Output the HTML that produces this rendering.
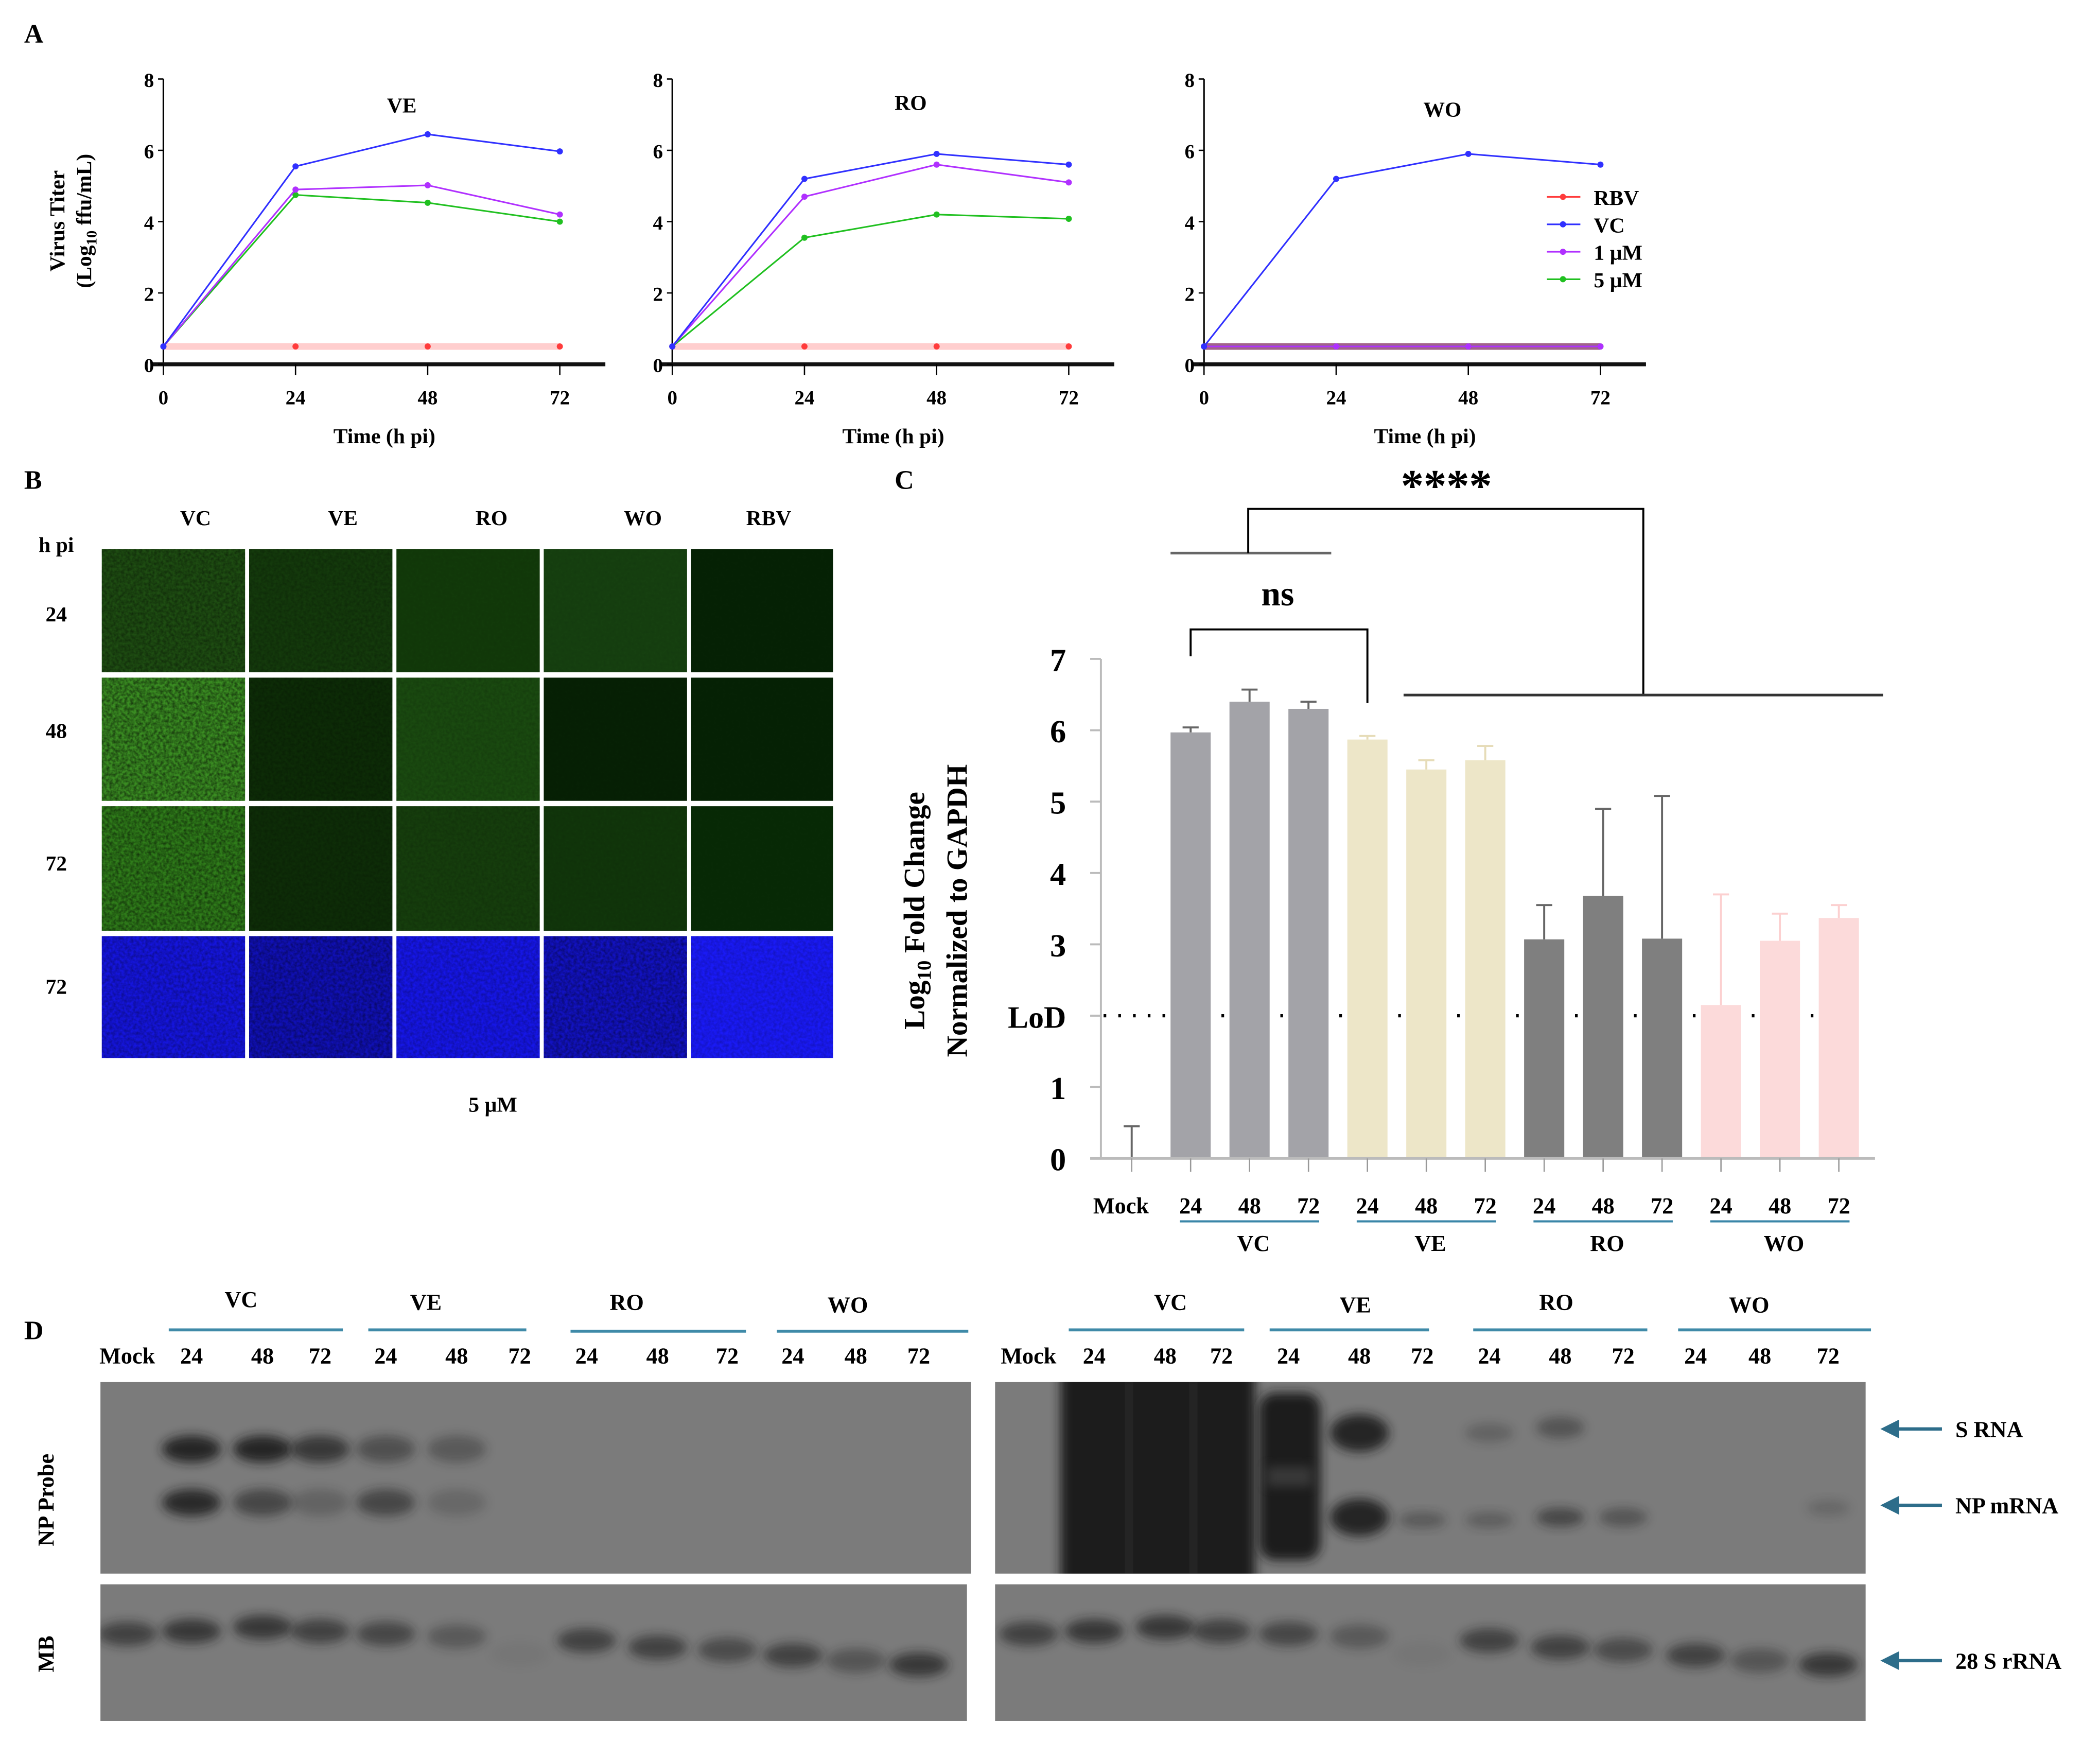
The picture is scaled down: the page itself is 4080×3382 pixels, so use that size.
<!DOCTYPE html>
<html><head><meta charset="utf-8"><style>
html,body{margin:0;padding:0;background:#fff;}
svg{display:block;}
text{font-family:"Liberation Serif",serif;font-weight:bold;fill:#000;}
</style></head>
<body>
<svg id="fig" xmlns="http://www.w3.org/2000/svg" width="4080" height="3382" viewBox="0 0 1568 1300" preserveAspectRatio="none">
<defs>
<filter id="blur3" x="-50%" y="-50%" width="200%" height="200%"><feGaussianBlur stdDeviation="4"/></filter>
<filter id="blur6" x="-50%" y="-50%" width="200%" height="200%"><feGaussianBlur stdDeviation="7"/></filter>
<filter id="noise" x="0" y="0" width="100%" height="100%"><feTurbulence type="fractalNoise" baseFrequency="0.45" numOctaves="2" seed="3"/><feColorMatrix type="matrix" values="0 0 0 0 0  0 0 0 0 0  0 0 0 0 0  0 0 0 -1.4 1.0"/><feComposite in2="SourceGraphic" operator="in"/></filter>
</defs>
<g id="panelA"></g>
<g id="panelB"></g>
<g id="panelC"></g>
<g id="panelD"></g>
</svg>
<script>
// ---------- Panel A data ----------
const timePoints = [0, 24, 48, 72];
const yTicksA = [0, 2, 4, 6, 8];
const aTitles = ["VE", "RO", "WO"];
const aVC  = [[0.5,5.55,6.45,5.97],[0.5,5.2,5.9,5.6],[0.5,5.2,5.9,5.6]];
const a1uM = [[0.5,4.9,5.02,4.2],[0.5,4.7,5.6,5.1],[0.5,0.5,0.5,0.5]];
const a5uM = [[0.5,4.75,4.53,4.0],[0.5,3.55,4.2,4.08],[0.5,0.5,0.5,0.5]];
const aRBV = [[0.5,0.5,0.5,0.5],[0.5,0.5,0.5,0.5],[0.5,0.5,0.5,0.5]];
const legendLabels = ["RBV","VC","1 µM","5 µM"];
// ---------- Panel C data ----------
const cCategories = ["Mock","VC 24","VC 48","VC 72","VE 24","VE 48","VE 72","RO 24","RO 48","RO 72","WO 24","WO 48","WO 72"];
const cTickLabels = ["Mock","24","48","72","24","48","72","24","48","72","24","48","72"];
const cValues = [0,5.97,6.4,6.3,5.87,5.45,5.58,3.07,3.68,3.08,2.15,3.05,3.37];
const cErrors = [0.45,0.07,0.17,0.1,0.05,0.13,0.2,0.48,1.22,2.0,1.55,0.38,0.18];
const cYTicks = ["0","1","LoD","3","4","5","6","7"];
const cLoD = 2;

const NS="http://www.w3.org/2000/svg";
function mk(parent, tag, attrs, txt){const e=document.createElementNS(NS,tag);for(const k in attrs)e.setAttribute(k,attrs[k]);if(txt!==undefined)e.textContent=txt;parent.appendChild(e);return e;}

// ---------- Panel A ----------
const A=document.getElementById('panelA');
let t=mk(A,'text',{x:18,y:32,'font-size':20},'A');


t=mk(A,'text',{transform:'translate(48,165) rotate(-90)','text-anchor':'middle','font-size':16},'Virus Titer');


t=mk(A,'text',{transform:'translate(68,165) rotate(-90)','text-anchor':'middle','font-size':16});
t.innerHTML='(Log<tspan font-size="11" dy="4">10</tspan><tspan dy="-4"> ffu/mL)</tspan>';


const aX0=[122,502,899], aW=296, aY0=272, aYs=(272-59)/8, aTitleY=[84,82,87];
const colors={RBV:'#ff3b3b',VC:'#3030ff',u1:'#b030ff',u5:'#20c020'};
aTitles.forEach((title,i)=>{
  const g=mk(A,'g',{});
  
  
  const xs=v=>aX0[i]+v/72*aW, ys=v=>aY0-v*aYs;
  let e=mk(g,'line',{x1:aX0[i],y1:ys(8),x2:aX0[i],y2:aY0,stroke:'#000','stroke-width':1.2});
  
  
  e=mk(g,'line',{x1:aX0[i]-8,y1:aY0,x2:aX0[i]+330,y2:aY0,stroke:'#111','stroke-width':3});
  
  
  yTicksA.forEach(v=>{
    mk(g,'line',{x1:aX0[i]-4,y1:ys(v),x2:aX0[i],y2:ys(v),stroke:'#000'});
    e=mk(g,'text',{x:aX0[i]-7,y:ys(v)+6,'text-anchor':'end','font-size':15},String(v));
    
    
  });
  timePoints.forEach(v=>{
    mk(g,'line',{x1:xs(v),y1:aY0,x2:xs(v),y2:aY0+8,stroke:'#000'});
    e=mk(g,'text',{x:xs(v),y:aY0+30,'text-anchor':'middle','font-size':15},String(v));
    
    
  });
  e=mk(g,'text',{x:aX0[i]+165,y:aY0+59,'text-anchor':'middle','font-size':16},'Time (h pi)');
  
  
  e=mk(g,'text',{x:aX0[i]+178,y:aTitleY[i],'text-anchor':'middle','font-size':16},title);
  
  
  const series=[['rbv',aRBV[i],colors.RBV,5,0.25],['5um',a5uM[i],colors.u5,1.2,1],['1um',a1uM[i],colors.u1,1.2,1],['vc',aVC[i],colors.VC,1.2,1]];
  if(i===2){series[0][2]='#8a3c6a';series[0][4]=0.8;}
  series.forEach(s=>{
    const pts=s[1].map((v,k)=>xs(timePoints[k])+','+ys(v)).join(' ');
    e=mk(g,'polyline',{points:pts,fill:'none',stroke:s[2],'stroke-width':s[3],'stroke-opacity':s[4]});
    
    
    s[1].forEach((v,k)=>{
      e=mk(g,'circle',{cx:xs(timePoints[k]),cy:ys(v),r:2.3,fill:s[0]==='rbv'&&i===2?'#8020c0':s[2]});
      
      
    });
  });
});
// legend
const lg=mk(A,'g',{});


[colors.RBV,colors.VC,colors.u1,colors.u5].forEach((c,k)=>{
  const y=147+k*20.5;
  mk(lg,'line',{x1:1155,y1:y,x2:1180,y2:y,stroke:c,'stroke-width':1.2});
  mk(lg,'circle',{cx:1167,cy:y,r:2.3,fill:c});
  const e=mk(lg,'text',{x:1190,y:y+6,'font-size':16},legendLabels[k]);
  
  
});

// ---------- Panel B ----------
const B=document.getElementById('panelB');
t=mk(B,'text',{x:18,y:365,'font-size':20},'B');


const bCols=["VC","VE","RO","WO","RBV"], bColX=[146,256,367,480,574];
bCols.forEach((c,k)=>{const e=mk(B,'text',{x:bColX[k],y:392,'text-anchor':'middle','font-size':16},c);});
[['h pi',412],['24',464],['48',551],['72',650],['72',742]].forEach(r=>{const e=mk(B,'text',{x:42,y:r[1],'text-anchor':'middle','font-size':16},r[0]);});
t=mk(B,'text',{x:368,y:830,'text-anchor':'middle','font-size':16},'5 µM');


const cellX=[76,186,296,406,516], cellY=[410,506,602,699], cellW=[107,107,107,107,106], cellH=[92,92,93,91];
const cellCol=[["#1e4d12","#143a0c","#123a0a","#164010","#062205"],
 ["#3a8c22","#0d2c07","#1a4a10","#072105","#062205"],
 ["#2f7c1a","#0e2d08","#163e0d","#11360b","#082a06"],
 ["#1515dc","#1010b5","#1616e6","#1212c0","#1a1af5"]];
const cellTex=[[0.5,0.3,0.08,0.08,0.03],[0.7,0.3,0.2,0.08,0.03],[0.65,0.25,0.2,0.1,0.03],[0.4,0.5,0.35,0.5,0.25]];
cellY.forEach((y,r)=>cellX.forEach((x,c)=>{
  const g=mk(B,'g',{});
  
  
  mk(g,'rect',{x:x,y:y,width:cellW[c],height:cellH[r],fill:cellCol[r][c]});
  const tex = r===3 ? '#000060' : '#000';
  mk(g,'rect',{x:x,y:y,width:cellW[c],height:cellH[r],fill:tex,filter:'url(#noise)',opacity:cellTex[r][c]});
}));

// ---------- Panel C ----------
const C=document.getElementById('panelC');
t=mk(C,'text',{x:668,y:365,'font-size':20},'C');


const cAx=822, cY0=865, cYs=(865-492)/7, cX0=845, cStep=44, barW=30;
const cy=v=>cY0-v*cYs, cx=i=>cX0+i*cStep;
const barColors=['#888','#a3a3a8','#a3a3a8','#a3a3a8','#ede6c8','#ede6c8','#ede6c8','#7f7f7f','#7f7f7f','#7f7f7f','#fcdada','#fcdada','#fcdada'];
t=mk(C,'line',{x1:cAx+2,y1:cy(cLoD),x2:1395,y2:cy(cLoD),stroke:'#000','stroke-width':2.4,'stroke-dasharray':'2 9'});


cValues.forEach((v,i)=>{
  const g=mk(C,'g',{});
  
  
  const ec = i>=10 ? '#fcd0d0' : (i>=4&&i<=6 ? '#e6dcb8' : '#666');
  if(i>0) mk(g,'rect',{x:cx(i)-barW/2,y:cy(v),width:barW,height:cy(0)-cy(v),fill:barColors[i]});
  mk(g,'line',{x1:cx(i),y1:cy(v),x2:cx(i),y2:cy(v+cErrors[i]),stroke:ec,'stroke-width':1.5});
  mk(g,'line',{x1:cx(i)-6,y1:cy(v+cErrors[i]),x2:cx(i)+6,y2:cy(v+cErrors[i]),stroke:ec,'stroke-width':1.5});
});
t=mk(C,'line',{x1:cAx,y1:cy(7),x2:cAx,y2:cY0,stroke:'#bbb','stroke-width':1.5});


t=mk(C,'line',{x1:cAx-8,y1:cY0,x2:1400,y2:cY0,stroke:'#bbb','stroke-width':2});


cYTicks.forEach((lab,k)=>{
  mk(C,'line',{x1:cAx-8,y1:cy(k),x2:cAx,y2:cy(k),stroke:'#bbb','stroke-width':1.5});
  const e=mk(C,'text',{x:cAx-26,y:cy(k)+9,'text-anchor':'end','font-size':lab==='LoD'?23:24},lab);
  
  
});
cTickLabels.forEach((lab,i)=>{
  mk(C,'line',{x1:cx(i),y1:cY0,x2:cx(i),y2:cY0+10,stroke:'#999'});
  const e=mk(C,'text',{x:i===0?cx(i)-8:cx(i),y:906,'text-anchor':'middle','font-size':17},lab);
  
  
});
["VC","VE","RO","WO"].forEach((gname,k)=>{
  const mid=cx(2+3*k);
  mk(C,'line',{x1:mid-52,y1:912,x2:mid+52,y2:912,stroke:'#3a86a8','stroke-width':1.6});
  const e=mk(C,'text',{x:mid+3,y:934,'text-anchor':'middle','font-size':17},gname);
  
  
});
t=mk(C,'text',{transform:'translate(690,680) rotate(-90)','text-anchor':'middle','font-size':22});
t.innerHTML='Log<tspan font-size="15" dy="5">10</tspan><tspan dy="-5"> Fold Change</tspan>';


t=mk(C,'text',{transform:'translate(722,680) rotate(-90)','text-anchor':'middle','font-size':22},'Normalized to GAPDH');


const sb=mk(C,'g',{fill:'none',stroke:'#000','stroke-width':1.5});


mk(sb,'polyline',{points:'889,490 889,470 1021,470 1021,525'});
mk(sb,'line',{x1:874,y1:413,x2:994,y2:413,stroke:'#666','stroke-width':2});
mk(sb,'polyline',{points:'932,413 932,380 1227,380 1227,519'});
mk(sb,'line',{x1:1048,y1:519,x2:1406,y2:519,stroke:'#333','stroke-width':2});
t=mk(C,'text',{x:954,y:452,'text-anchor':'middle','font-size':26,'font-weight':'normal'},'ns');


t=mk(C,'text',{x:1080,y:374,'text-anchor':'middle','font-size':34,'font-family':'Liberation Sans, sans-serif'},'****');



// ---------- Panel D ----------
const D=document.getElementById('panelD');
t=mk(D,'text',{x:18,y:1000,'font-size':20},'D');


const laneL=[95,143,196,239,288,341,388,438,491,543,592,639,686];
const laneR=[768,817,870,912,962,1015,1062,1112,1165,1212,1266,1314,1365];
const laneLabels=["Mock","24","48","72","24","48","72","24","48","72","24","48","72"];
const grpNames=["VC","VE","RO","WO"];
const grpL=[[126,256,180,976],[275,393,318,978],[426,557,468,978],[580,723,633,980]];
const grpR=[[798,929,874,978],[948,1067,1012,980],[1100,1230,1162,978],[1253,1397,1306,980]];
[[laneL,grpL],[laneR,grpR]].forEach((p,side)=>{
  p[1].forEach((gr,k)=>{
    mk(D,'line',{x1:gr[0],y1:side===0&&k>=2?994:993,x2:gr[1],y2:side===0&&k>=2?994:993,stroke:'#3f8aa8','stroke-width':2.2});
    const e=mk(D,'text',{x:gr[2],y:gr[3],'text-anchor':'middle','font-size':17},grpNames[k]);
    
    
  });
  p[0].forEach((x,i)=>{
    const e=mk(D,'text',{x:x,y:1018,'text-anchor':'middle','font-size':17},laneLabels[i]);
    
    
  });
});
t=mk(D,'text',{transform:'translate(40,1120) rotate(-90)','text-anchor':'middle','font-size':17},'NP Probe');


t=mk(D,'text',{transform:'translate(40,1235) rotate(-90)','text-anchor':'middle','font-size':17},'MB');


function blot(x,y,w,h,name){
  const g=mk(D,'g',{});
  
  
  mk(g,'rect',{x:x,y:y,width:w,height:h,fill:'#7b7b7b'});
  const cp=mk(g,'clipPath',{id:'cp'+name});mk(cp,'rect',{x:x,y:y,width:w,height:h});
  return mk(g,'g',{'clip-path':'url(#cp'+name+')'});
}
function band(g,cx,cy,rx,ry,op,f){mk(g,'ellipse',{cx:cx,cy:cy,rx:rx,ry:ry,fill:'#1a1a1a',opacity:op,filter:f||'url(#blur3)'});}
let g1=blot(75,1032,650,143,'np-blot-left');
[[143,0.9,0.85],[196,0.9,0.55],[239,0.7,0.25],[288,0.45,0.55],[341,0.35,0.2]].forEach(b=>{band(g1,b[0],1082,22,10,b[1]);band(g1,b[0],1122,22,10,b[2]);});
let g2=blot(743,1032,650,143,'np-blot-right');
mk(g2,'rect',{x:792,y:1020,width:145,height:170,fill:'#1c1c1c',filter:'url(#blur3)'});
[843,891].forEach(x=>{mk(g2,'rect',{x:x-1.5,y:1030,width:3,height:150,fill:'#3a3a3a',filter:'url(#blur3)'});});
mk(g2,'rect',{x:940,y:1040,width:46,height:125,rx:12,fill:'#1e1e1e',filter:'url(#blur3)'});
mk(g2,'rect',{x:946,y:1095,width:34,height:15,fill:'#555',filter:'url(#blur3)',opacity:0.5});
band(g2,1015,1070,22,14,0.9);band(g2,1015,1133,22,14,0.9);
band(g2,1062,1135,18,6,0.35);band(g2,1112,1070,18,7,0.25);band(g2,1112,1135,18,6,0.3);band(g2,1165,1066,18,8,0.4);band(g2,1165,1133,18,7,0.55);band(g2,1212,1133,18,7,0.4);band(g2,1365,1126,16,6,0.2);
let g3=blot(75,1183,647,102,'mb-blot-left');
let g4=blot(743,1183,650,102,'mb-blot-right');
const mbY=[1220,1218,1215,1218,1220,1222,1235,1225,1230,1232,1236,1240,1243];
const mbO=[0.6,0.7,0.7,0.6,0.55,0.35,0.05,0.6,0.6,0.5,0.6,0.4,0.7];
mbY.forEach((y,i)=>{band(g3,laneL[i],y,22,9,mbO[i]);band(g4,laneR[i],y,22,9,mbO[i]);});
[['S RNA',1067],['NP mRNA',1124],['28 S rRNA',1240]].forEach(a=>{
  const g=mk(D,'g',{});
  
  
  mk(g,'line',{x1:1415,y1:a[1],x2:1450,y2:a[1],stroke:'#2d6d8a','stroke-width':2.5});
  mk(g,'polygon',{points:`1404,${a[1]} 1418,${a[1]-7} 1418,${a[1]+7}`,fill:'#2d6d8a'});
  mk(g,'text',{x:1460,y:a[1]+6,'font-size':17},a[0]);
});
</script>
</body></html>
